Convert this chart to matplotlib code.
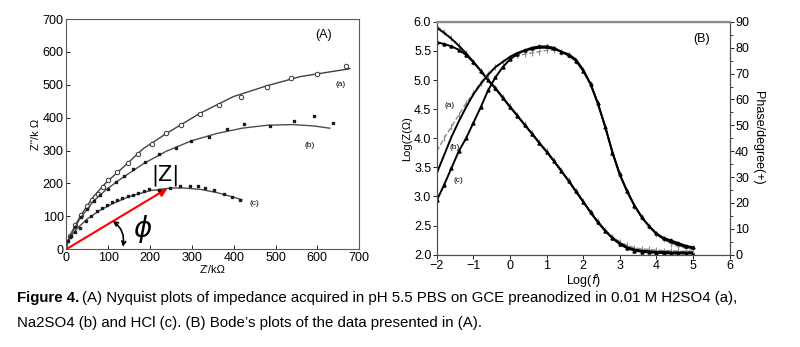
import matplotlib
matplotlib.use('Agg')
import matplotlib.pyplot as plt
from matplotlib.patches import FancyArrowPatch

# Nyquist data (kOhm): measured points and fitted curves
a_x = [8, 20, 35, 50, 62, 75, 88, 100, 122, 148, 172, 205, 238, 275, 319, 365, 417, 479, 537, 599, 669]
a_y = [40, 72, 103, 130, 150, 168, 190, 210, 236, 262, 288, 320, 352, 378, 412, 440, 462, 494, 520, 533, 557]
a_fit_x = [0, 2, 6, 12, 32, 64, 96, 128, 184, 239, 319, 399, 479, 559, 678]
a_fit_y = [0, 20, 35, 50, 98, 159, 204, 240, 306, 352, 413, 464, 497, 525, 549]

b_x = [8, 20, 35, 50, 65, 80, 100, 118, 137, 160, 189, 222, 261, 299, 341, 385, 424, 487, 543, 592, 637]
b_y = [38, 68, 98, 122, 145, 165, 184, 203, 222, 245, 264, 288, 308, 328, 342, 367, 382, 375, 390, 405, 383]
b_fit_x = [0, 2, 6, 12, 32, 64, 96, 128, 184, 239, 300, 360, 420, 480, 540, 590, 630]
b_fit_y = [0, 19, 33, 47, 92, 145, 182, 212, 260, 298, 330, 352, 368, 377, 379, 375, 368]

c_x = [5, 12, 20, 32, 48, 60, 72, 84, 96, 108, 120, 134, 147, 160, 172, 185, 198, 222, 247, 271,
       295, 315, 331, 353, 377, 395, 415]
c_y = [25, 40, 52, 65, 87, 100, 115, 125, 135, 143, 150, 157, 162, 166, 171, 176, 183, 180, 187, 191,
       192, 191, 186, 179, 169, 159, 151]
c_fit_x = [0, 3, 10, 25, 50, 80, 110, 150, 200, 250, 280, 320, 360, 400, 420]
c_fit_y = [0, 18, 38, 62, 92, 118, 138, 160, 178, 186, 186, 182, 172, 158, 150]

z_tip = (242, 185)

# Bode data: log f, log|Z| and phase (degrees)
logf = [-2.0, -1.8, -1.6, -1.4, -1.2, -1.0, -0.8, -0.6, -0.4, -0.2, 0.0, 0.2, 0.4, 0.6, 0.8, 1.0,
        1.2, 1.4, 1.6, 1.8, 2.0, 2.2, 2.4, 2.6, 2.8, 3.0, 3.2, 3.4, 3.6, 3.8, 4.0, 4.2, 4.4, 4.6,
        4.8, 5.0]
logz_a = [5.93, 5.83, 5.72, 5.60, 5.47, 5.31, 5.16, 5.01, 4.87, 4.71, 4.55, 4.40, 4.24, 4.09, 3.93,
          3.78, 3.62, 3.45, 3.28, 3.10, 2.92, 2.74, 2.58, 2.43, 2.31, 2.22, 2.16, 2.12, 2.10, 2.09,
          2.08, 2.07, 2.07, 2.06, 2.06, 2.06]
logz_b = [5.90, 5.81, 5.71, 5.59, 5.46, 5.31, 5.16, 5.00, 4.86, 4.70, 4.54, 4.39, 4.23, 4.08, 3.92,
          3.77, 3.61, 3.44, 3.27, 3.09, 2.91, 2.73, 2.56, 2.41, 2.29, 2.20, 2.13, 2.09, 2.07, 2.06,
          2.05, 2.05, 2.04, 2.04, 2.04, 2.04]
logz_c = [5.65, 5.62, 5.58, 5.52, 5.43, 5.31, 5.16, 5.00, 4.86, 4.70, 4.54, 4.39, 4.23, 4.08, 3.92,
          3.77, 3.61, 3.44, 3.27, 3.09, 2.91, 2.73, 2.56, 2.41, 2.28, 2.18, 2.11, 2.07, 2.05, 2.04,
          2.03, 2.03, 2.02, 2.02, 2.02, 2.02]
phase_a = [40, 45, 49.5, 54, 58.5, 62.5, 66.5, 70, 72.5, 74.5, 76, 77, 77.5, 78, 78.5, 79,
           79, 78.5, 77, 75, 71.5, 66, 58.5, 49.5, 39.5, 31, 24.5, 19, 14.5, 11, 8, 6, 4.2, 3.2,
           2.5, 2.0]
phase_b = [31.5, 38.5, 45.5, 51.5, 57, 62, 66, 69.5, 72.5, 74.5, 76.5, 78, 79, 79.5, 80, 80,
           79.5, 78.5, 77.5, 75.5, 71.5, 66, 58.5, 49.5, 39.5, 31, 24.5, 19, 14.5, 11, 8, 6, 4.8,
           3.8, 3.0, 2.5]
phase_c = [21, 27, 33.5, 40, 45, 51, 57, 63.5, 68.5, 72.5, 75.5, 77.5, 79, 80, 80.5, 80.5,
           80, 78.5, 77, 75, 71, 66, 58.5, 49.5, 39.5, 31, 24.5, 19, 14.5, 11, 8.2, 6.5, 5.5,
           4.5, 3.5, 2.8]

fig = plt.figure(figsize=(8, 3.47), dpi=100)
plt.rcParams['font.family'] = ['Liberation Sans', 'DejaVu Sans']

# ---- (A) Nyquist ----
ax1 = fig.add_axes([0.083, 0.282, 0.366, 0.663])
ax1.plot(a_fit_x, a_fit_y, color='0.25', lw=1.0)
ax1.plot(a_x, a_y, 'o', mfc='white', mec='0.2', ms=3.2, mew=0.7)
ax1.plot(b_fit_x, b_fit_y, color='0.3', lw=1.0)
ax1.plot(b_x, b_y, 's', color='0.1', ms=1.8)
ax1.plot(c_fit_x, c_fit_y, color='0.3', lw=1.0)
ax1.plot(c_x, c_y, 's', color='0.1', ms=1.8)

ax1.add_patch(FancyArrowPatch((0, 0), z_tip, arrowstyle='-|>', mutation_scale=12,
                              color='red', lw=1.5, shrinkA=0, shrinkB=0))
# angle marker between |Z| and the real axis
ax1.add_patch(FancyArrowPatch((111, 86), (135, 7), arrowstyle='<->', mutation_scale=7,
                              connectionstyle='arc3,rad=-0.3', color='black', lw=1.2,
                              shrinkA=0, shrinkB=0))
ax1.text(236, 224, '|Z|', fontsize=15, ha='center', va='center', family='DejaVu Sans')
ax1.text(182, 60, r'$\phi$', fontsize=20, ha='center', va='center')
ax1.text(615, 652, '(A)', fontsize=9, ha='center', va='center')
ax1.text(655, 500, '(a)', fontsize=6, ha='center', va='center')
ax1.text(581, 316, '(b)', fontsize=6, ha='center', va='center')
ax1.text(449, 138, '(c)', fontsize=6, ha='center', va='center')

ax1.set_xlim(0, 700)
ax1.set_ylim(0, 700)
ax1.set_xticks(range(0, 701, 100))
ax1.set_yticks(range(0, 701, 100))
ax1.tick_params(direction='in', labelsize=9, length=3, width=0.6, pad=2)
ax1.set_xlabel("Z'/kΩ", fontsize=8, labelpad=1)
ax1.set_ylabel("Z''/k Ω", fontsize=8, labelpad=1)
for s in ax1.spines.values():
    s.set_color('0.35')
    s.set_linewidth(0.8)

# ---- (B) Bode ----
ax2 = fig.add_axes([0.546, 0.266, 0.366, 0.671])
ax3 = ax2.twinx()
ax2.plot(logf, logz_a, color='0.55', lw=1.0, ls='--', marker='|', ms=4, mew=0.8)
ax2.plot(logf, logz_b, color='black', lw=1.4)
ax2.plot(logf, logz_c, color='black', lw=1.4, marker='^', ms=2.2)
ax3.plot(logf, phase_a, color='0.55', lw=1.0, ls='--', marker='|', ms=4, mew=0.8)
ax3.plot(logf, phase_b, color='black', lw=1.4)
ax3.plot(logf, phase_c, color='black', lw=1.4, marker='^', ms=2.2)

ax2.text(5.23, 5.71, '(B)', fontsize=9, ha='center', va='center')
ax2.text(-1.65, 4.57, '(a)', fontsize=6, ha='center', va='center')
ax2.text(-1.52, 3.85, '(b)', fontsize=6, ha='center', va='center')
ax2.text(-1.40, 3.28, '(c)', fontsize=6, ha='center', va='center')

ax2.set_xlim(-2, 6)
ax2.set_ylim(2.0, 6.0)
ax3.set_ylim(0, 90)
ax2.set_xticks(range(-2, 7))
ax2.set_yticks([2.0, 2.5, 3.0, 3.5, 4.0, 4.5, 5.0, 5.5, 6.0])
ax2.set_yticklabels(['2.0', '2.5', '3.0', '3.5', '4.0', '4.5', '5.0', '5.5', '6.0'])
ax2.set_xticklabels(['\u22122', '\u22121', '0', '1', '2', '3', '4', '5', '6'])
ax3.set_yticks(range(0, 91, 10))
ax3.set_yticks(range(5, 90, 10), minor=True)
ax2.tick_params(direction='out', labelsize=9, length=3, width=0.6, pad=1)
ax3.tick_params(direction='out', labelsize=9, length=3, width=0.6, pad=1)
ax3.tick_params(which='minor', direction='out', length=2, width=0.5)
ax2.set_xlabel(r'Log($f$)', fontsize=9, labelpad=0)
ax2.set_ylabel('Log(Z(Ω)', fontsize=8, labelpad=1)
ax3.set_ylabel('Phase/degree(+)', fontsize=9, rotation=270, labelpad=11)
for ax in (ax2, ax3):
    for s in ax.spines.values():
        s.set_color('0.3')
        s.set_linewidth(0.8)
ax3.spines['top'].set_color('0.55')
ax3.spines['top'].set_linewidth(1.6)

# ---- caption ----
cap_font = ['Liberation Sans', 'DejaVu Sans']
cap_size = 10.85
t1 = fig.text(0.021, 0.141, 'Figure 4.', fontsize=cap_size, fontweight='bold', va='center',
              family=cap_font)
fig.canvas.draw()
bb = t1.get_window_extent(fig.canvas.get_renderer())
x_next = (bb.x1 + 3) / fig.bbox.width
fig.text(x_next, 0.141, '(A) Nyquist plots of impedance acquired in pH 5.5 PBS on GCE '
         'preanodized in 0.01 M H2SO4 (a),', fontsize=cap_size, va='center', family=cap_font)
fig.text(0.021, 0.069, 'Na2SO4 (b) and HCl (c). (B) Bode\u2019s plots of the data presented in (A).',
         fontsize=cap_size, va='center', family=cap_font)

fig.savefig('out.png', dpi=100)
